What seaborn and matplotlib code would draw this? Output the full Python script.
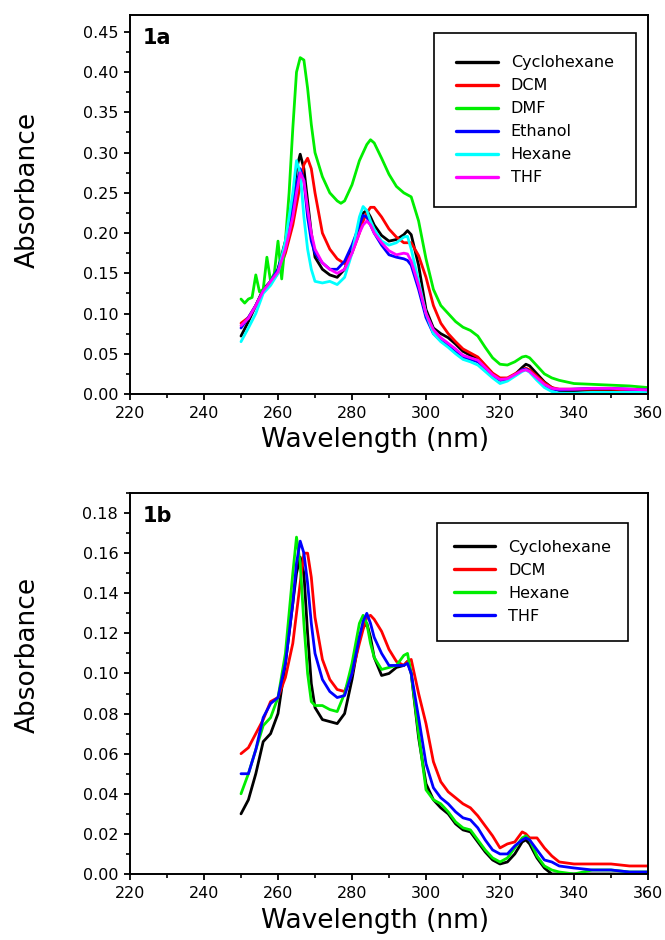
import pandas as pd
import matplotlib
matplotlib.use("Agg")
import matplotlib.pyplot as plt
import seaborn as sns
from matplotlib.ticker import MultipleLocator, FormatStrFormatter

# wavelength grid (nm) shared by most spectra
wl = [250, 252, 254, 256, 258, 260, 262, 264, 265, 266, 267, 268, 269, 270,
      272, 274, 276, 278, 280, 282, 283, 284, 285, 286, 288, 290, 292, 294,
      295, 296, 298, 300, 302, 304, 306, 308, 310, 312, 314, 316, 318, 320,
      322, 324, 326, 327, 328, 330, 332, 334, 336, 340, 345, 350, 355, 360]

# DMF (panel 1a) is noisier at short wavelength, so it has its own grid
wl_dmf = [250, 251, 252, 253, 254, 255, 256, 257, 258, 259, 260, 261, 262, 263,
          264, 265, 266, 267, 268, 269, 270, 272, 274, 276, 277, 278, 280, 282,
          284, 285, 286, 288, 290, 292, 294, 296, 298, 300, 302, 304, 306, 308,
          310, 312, 314, 316, 318, 320, 322, 324, 326, 327, 328, 330, 332, 334,
          336, 338, 340, 345, 350, 355, 360]

# ---- panel 1a
a_cyclohexane = [0.072, 0.09, 0.11, 0.13, 0.14, 0.155, 0.19, 0.24, 0.28, 0.298, 0.28, 0.24, 0.20, 0.17,
                 0.155, 0.148, 0.145, 0.155, 0.18, 0.21, 0.225, 0.228, 0.22, 0.21, 0.197, 0.19, 0.192, 0.198,
                 0.203, 0.198, 0.16, 0.105, 0.082, 0.075, 0.07, 0.062, 0.053, 0.048, 0.045, 0.035, 0.025, 0.018,
                 0.018, 0.024, 0.033, 0.037, 0.035, 0.025, 0.015, 0.008, 0.004, 0.004, 0.005, 0.005, 0.004, 0.004]
a_dcm = [0.088, 0.095, 0.11, 0.128, 0.138, 0.15, 0.175, 0.21, 0.235, 0.26, 0.285, 0.293, 0.28, 0.25,
         0.20, 0.18, 0.168, 0.162, 0.175, 0.20, 0.215, 0.225, 0.232, 0.232, 0.22, 0.205, 0.195, 0.188,
         0.188, 0.188, 0.172, 0.145, 0.11, 0.088, 0.075, 0.065, 0.056, 0.051, 0.046, 0.036, 0.026, 0.02,
         0.02, 0.025, 0.03, 0.032, 0.03, 0.022, 0.014, 0.008, 0.006, 0.006, 0.006, 0.006, 0.005, 0.005]
a_dmf = [0.118, 0.113, 0.118, 0.12, 0.148, 0.127, 0.13, 0.17, 0.14, 0.15, 0.19, 0.143, 0.19, 0.25,
         0.33, 0.40, 0.418, 0.415, 0.38, 0.335, 0.30, 0.27, 0.25, 0.24, 0.237, 0.24, 0.26, 0.29,
         0.31, 0.316, 0.312, 0.293, 0.273, 0.258, 0.25, 0.245, 0.215, 0.168, 0.13, 0.11, 0.1, 0.09,
         0.083, 0.079, 0.072, 0.058, 0.045, 0.037, 0.036, 0.04, 0.046, 0.047, 0.045, 0.035, 0.025, 0.02,
         0.017, 0.015, 0.013, 0.012, 0.011, 0.01, 0.008]
a_ethanol = [0.082, 0.095, 0.11, 0.128, 0.14, 0.155, 0.185, 0.23, 0.26, 0.28, 0.265, 0.22, 0.19, 0.175,
             0.163, 0.155, 0.155, 0.165, 0.185, 0.21, 0.222, 0.22, 0.21, 0.2, 0.185, 0.173, 0.17, 0.168,
             0.166, 0.16, 0.13, 0.095, 0.075, 0.066, 0.06, 0.052, 0.046, 0.043, 0.04, 0.032, 0.023, 0.017,
             0.018, 0.023, 0.03, 0.031, 0.028, 0.018, 0.01, 0.006, 0.005, 0.006, 0.007, 0.007, 0.006, 0.005]
a_hexane = [0.065, 0.082, 0.1, 0.125, 0.135, 0.15, 0.19, 0.25, 0.29, 0.275, 0.22, 0.18, 0.155, 0.14,
            0.138, 0.14, 0.136, 0.145, 0.175, 0.22, 0.233, 0.228, 0.215, 0.205, 0.19, 0.185, 0.188, 0.195,
            0.196, 0.18, 0.14, 0.1, 0.075, 0.065, 0.058, 0.05, 0.043, 0.04, 0.036, 0.028, 0.02, 0.013,
            0.016, 0.022, 0.028, 0.03, 0.027, 0.017, 0.008, 0.003, 0.001, 0.001, 0.002, 0.002, 0.002, 0.002]
a_thf = [0.085, 0.094, 0.11, 0.128, 0.14, 0.152, 0.18, 0.22, 0.25, 0.275, 0.265, 0.23, 0.2, 0.18,
         0.163, 0.155, 0.15, 0.155, 0.175, 0.2, 0.21, 0.215, 0.21, 0.2, 0.188, 0.178, 0.173, 0.175,
         0.174, 0.165, 0.135, 0.1, 0.08, 0.07, 0.063, 0.056, 0.048, 0.045, 0.042, 0.033, 0.024, 0.018,
         0.019, 0.024, 0.029, 0.03, 0.028, 0.02, 0.012, 0.007, 0.006, 0.006, 0.007, 0.007, 0.006, 0.005]

# ---- panel 1b
b_cyclohexane = [0.030, 0.037, 0.05, 0.066, 0.07, 0.08, 0.105, 0.135, 0.15, 0.158, 0.15, 0.12, 0.095, 0.083,
                 0.077, 0.076, 0.075, 0.08, 0.097, 0.118, 0.123, 0.125, 0.118, 0.108, 0.099, 0.1, 0.103, 0.104,
                 0.106, 0.1, 0.068, 0.045, 0.037, 0.033, 0.03, 0.025, 0.022, 0.021, 0.016, 0.011, 0.007, 0.005,
                 0.006, 0.01, 0.016, 0.017, 0.015, 0.008, 0.003, 0.0, 0.0, 0.0, 0.0, 0.0, 0.0, 0.0]
b_dcm = [0.06, 0.063, 0.07, 0.077, 0.086, 0.088, 0.098, 0.115, 0.13, 0.145, 0.16, 0.16, 0.148, 0.128,
         0.107, 0.097, 0.092, 0.091, 0.1, 0.115, 0.122, 0.128, 0.129, 0.127, 0.121, 0.112, 0.106, 0.104,
         0.106, 0.107, 0.09, 0.075, 0.056, 0.046, 0.041, 0.038, 0.035, 0.033, 0.029, 0.024, 0.019, 0.013,
         0.015, 0.016, 0.021, 0.02, 0.018, 0.018, 0.013, 0.009, 0.006, 0.005, 0.005, 0.005, 0.004, 0.004]
b_hexane = [0.04, 0.05, 0.062, 0.074, 0.078, 0.088, 0.11, 0.15, 0.168, 0.155, 0.125, 0.1, 0.086, 0.084,
            0.084, 0.082, 0.081, 0.09, 0.105, 0.125, 0.129, 0.125, 0.115, 0.108, 0.102, 0.103, 0.104, 0.109,
            0.11, 0.1, 0.07, 0.042, 0.037, 0.035, 0.031, 0.026, 0.023, 0.022, 0.017, 0.012, 0.008, 0.006,
            0.008, 0.013, 0.018, 0.019, 0.017, 0.009, 0.004, 0.002, 0.001, 0.0, 0.002, 0.002, 0.001, 0.001]
b_thf = [0.05, 0.05, 0.062, 0.078, 0.085, 0.088, 0.105, 0.135, 0.155, 0.166, 0.16, 0.145, 0.125, 0.11,
         0.097, 0.091, 0.088, 0.089, 0.1, 0.118, 0.126, 0.13, 0.125, 0.118, 0.11, 0.104, 0.104, 0.104,
         0.105, 0.1, 0.078, 0.055, 0.043, 0.038, 0.035, 0.031, 0.028, 0.027, 0.023, 0.017, 0.012, 0.01,
         0.01, 0.014, 0.017, 0.018, 0.017, 0.012, 0.007, 0.006, 0.004, 0.003, 0.002, 0.002, 0.001, 0.001]

solvents_a = ["Cyclohexane", "DCM", "DMF", "Ethanol", "Hexane", "THF"]
colors_a = ["#000000", "#ff0000", "#00ee00", "#0000ff", "#00ffff", "#ff00ff"]
solvents_b = ["Cyclohexane", "DCM", "Hexane", "THF"]
colors_b = ["#000000", "#ff0000", "#00ee00", "#0000ff"]

sns.set_style("ticks")
plt.rcParams["font.family"] = ["DejaVu Sans"]
plt.rcParams.update({"text.color": "black", "axes.labelcolor": "black",
                     "xtick.color": "black", "ytick.color": "black"})


def long_form(series):
    return pd.concat(
        [pd.DataFrame({"Wavelength": x, "Absorbance": y, "Solvent": name})
         for name, (x, y) in series.items()],
        ignore_index=True,
    )


def panel(ax, df, order, colors, ymax, ystep, yminor, tag, leg_anchor, ylab_y, bpad):
    sns.lineplot(data=df, x="Wavelength", y="Absorbance", hue="Solvent",
                 hue_order=order, palette=colors, estimator=None, sort=False,
                 linewidth=2.0, ax=ax)
    ax.set(xlim=(220, 360), ylim=(0, ymax))
    ax.xaxis.set_major_locator(MultipleLocator(20))
    ax.xaxis.set_minor_locator(MultipleLocator(10))
    ax.yaxis.set_major_locator(MultipleLocator(ystep))
    ax.yaxis.set_minor_locator(MultipleLocator(yminor))
    ax.yaxis.set_major_formatter(FormatStrFormatter("%.2f"))
    ax.tick_params(which="major", direction="out", length=4.5, width=1.3,
                   labelsize=11.5, pad=4)
    ax.tick_params(which="minor", direction="out", length=2.8, width=1.2)
    for s in ax.spines.values():
        s.set_visible(True)
        s.set_linewidth(1.4)
        s.set_color("black")
    ax.set_xlabel("Wavelength (nm)", fontsize=19)
    ax.set_ylabel("Absorbance", fontsize=19)
    ax.xaxis.set_label_coords(0.473, -0.088)
    ax.yaxis.set_label_coords(-0.172, ylab_y)
    ax.text(0.025, 0.965, tag, transform=ax.transAxes, fontsize=15,
            fontweight="bold", va="top", ha="left")
    h, l = ax.get_legend_handles_labels()
    leg = ax.legend(h, l, loc="upper right", bbox_to_anchor=leg_anchor,
                    borderaxespad=0, fontsize=11.5, frameon=True, fancybox=False,
                    edgecolor="black", framealpha=1, handlelength=2.6,
                    handletextpad=0.8, labelspacing=0.5, borderpad=bpad)
    leg.get_frame().set_linewidth(1.2)
    for line in leg.get_lines():
        line.set_linewidth(2.4)


fig = plt.figure(figsize=(6.65, 9.4), dpi=100)
ax1 = fig.add_axes([130 / 665, 1 - 394 / 940, 518 / 665, 379 / 940])
ax2 = fig.add_axes([130 / 665, 1 - 874 / 940, 518 / 665, 381 / 940])

df_a = long_form({
    "Cyclohexane": (wl, a_cyclohexane),
    "DCM": (wl, a_dcm),
    "DMF": (wl_dmf, a_dmf),
    "Ethanol": (wl, a_ethanol),
    "Hexane": (wl, a_hexane),
    "THF": (wl, a_thf),
})
df_b = long_form({
    "Cyclohexane": (wl, b_cyclohexane),
    "DCM": (wl, b_dcm),
    "Hexane": (wl, b_hexane),
    "THF": (wl, b_thf),
})

panel(ax1, df_a, solvents_a, colors_a, 0.471, 0.05, 0.025, "1a", (0.977, 0.953), 0.538, 1.4)
panel(ax2, df_b, solvents_b, colors_b, 0.19, 0.02, 0.01, "1b", (0.961, 0.921), 0.575, 1.05)

fig.savefig("out.png", dpi=100)
